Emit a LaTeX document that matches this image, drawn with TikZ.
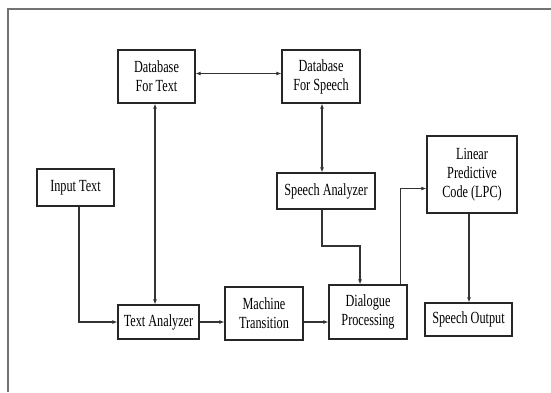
\documentclass[tikz,border=0pt]{standalone}
\usepackage{fontspec}
\setmainfont[FakeStretch=0.72]{Liberation Serif}
\usepackage{tikz}
\usetikzlibrary{positioning,calc,arrows.meta}

\begin{document}
\begin{tikzpicture}[x=1pt,y=-1pt,
    block/.style={draw=black!85,line width=1.2pt,align=center,inner sep=0pt,
        font=\fontsize{17}{19}\selectfont},
    link/.style={draw=black!80,line width=1.1pt,-{Latex[length=5pt,width=4pt]}},
    twoway/.style={link,{Latex[length=5pt,width=4pt]}-{Latex[length=5pt,width=4pt]}}]
    \useasboundingbox (0,0) rectangle (551,392);
    \draw[black!55,line width=1.2pt] (8,392) -- (8,9) -- (551,9);
    % upper row
    \node (DBT) [block,minimum width=77pt,minimum height=53pt] at (156.5,76.5) {Database\\For Text};
    \node (DBS) [block,minimum width=78pt,minimum height=53pt] at (321,76.5) {Database\\For Speech};
    % middle row
    \node (IT) [block,minimum width=77pt,minimum height=37pt] at (75.5,187.5) {Input Text};
    \node (SA) [block,minimum width=98pt,minimum height=36pt] at (326,191) {Speech Analyzer};
    \node (LPC) [block,minimum width=90pt,minimum height=77pt] at (472,174.5) {Linear\\Predictive\\Code (LPC)};
    % lower row
    \node (TA) [block,minimum width=81pt,minimum height=34pt] at (158.5,322) {Text Analyzer};
    \node (MT) [block,minimum width=78pt,minimum height=53pt] at (264,313.5) {Machine\\Transition};
    \node (DP) [block,minimum width=78pt,minimum height=54pt] at (368,312) {Dialogue\\Processing};
    \node (SO) [block,minimum width=87pt,minimum height=33pt] at (468.5,319.5) {Speech Output};
    \coordinate (SAbend) at (360,246);
    \draw[twoway] ([yshift=3pt]DBT.east) -- ([yshift=3pt]DBS.west);
    \draw[twoway] ([xshift=-1.5pt]DBT.south) -- ([xshift=-1.5pt]DBT.south |- TA.north);
    \draw[twoway] ([xshift=1pt]DBS.south) -- ([xshift=1pt]DBS.south |- SA.north);
    \draw[link] ([xshift=3.5pt]IT.south) |- (TA.west);
    \draw[link] (TA.east) -- (TA.east -| MT.west);
    \draw[link] (TA.east -| MT.east) -- (TA.east -| DP.west);
    \draw[link] ([xshift=-4pt]SA.south) |- (SAbend) -- (SAbend |- DP.north);
    \draw[link] ([xshift=-7pt]DP.north east) |- ([yshift=-14pt]LPC.west);
    \draw[link] ([xshift=-3pt]LPC.south) -- ([xshift=-3pt]LPC.south |- SO.north);
\end{tikzpicture}
\end{document}
